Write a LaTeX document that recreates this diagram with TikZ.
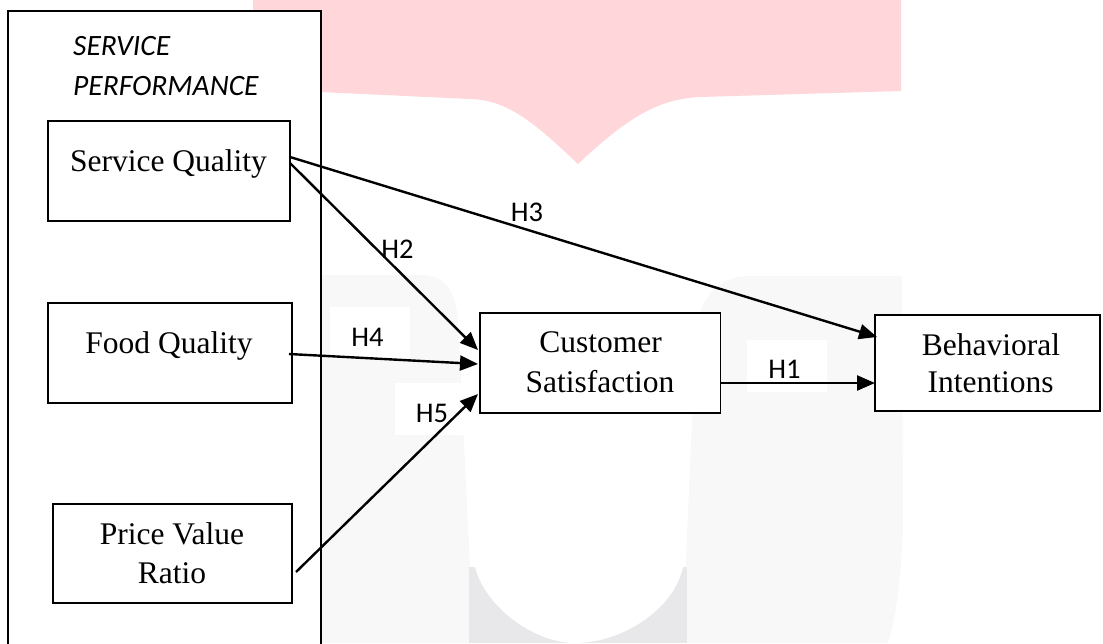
\documentclass[tikz,border=0pt]{standalone}
\usepackage{fontspec}
\setmainfont{Liberation Serif}
\newfontfamily\calibrifont{Carlito}
\usetikzlibrary{arrows.meta,calc}
\definecolor{wmpink}{HTML}{FFD6DA}
\definecolor{wmlight}{HTML}{F8F8F8}
\definecolor{wmdark}{HTML}{E8E8EA}
\begin{document}
\begin{tikzpicture}[x=1pt,y=-1pt,
  box/.style={draw, line width=1.3pt, inner sep=0pt, outer sep=0pt},
  txt/.style={inner sep=0pt, anchor=base, font=\fontsize{31.5}{36}\selectfont},
  lab/.style={inner sep=0pt, font=\calibrifont\fontsize{28.5}{32}\selectfont},
  labbox/.style={fill=white, inner sep=0pt, minimum width=80pt, minimum height=52pt},
  arr/.style={line width=2.4pt, -{Triangle[length=18pt,width=15pt]}}]
\useasboundingbox (0,0) rectangle (1103,643);
\clip (0,0) rectangle (1103,643);
% watermark
\fill[wmpink] (253,0) -- (901,0) -- (901,91) -- (700,97)
  .. controls (660,99) and (630,115) .. (578,164)
  .. controls (530,118) and (505,100) .. (470,99) -- (320,92) -- (253,92) -- cycle;
\fill[wmlight] (321,275) -- (420,275) .. controls (445,275) and (455,290) .. (458,320)
  -- (470,567) -- (470,643) -- (321,643) -- cycle;
\fill[wmlight] (750,276) -- (902,276) -- (903,520) .. controls (902,580) and (895,620) .. (888,643)
  -- (686,643) -- (686,560) -- (692,420) -- (697,330) .. controls (700,295) and (720,276) .. (750,276) -- cycle;
\fill[wmdark] (469,567) rectangle (687,643);
\fill[white] (473,540) -- (474,560) .. controls (478,600) and (530,643) .. (575,643)
  .. controls (625,643) and (680,605) .. (684,560) -- (686,540) -- cycle;
% outer group box
\node[draw, line width=2.5pt, fill=white, inner sep=0pt, outer sep=0pt,
  minimum width=313pt, minimum height=660pt, anchor=north west] (sp) at (8,11) {};
\node[anchor=base west, inner sep=0pt, font=\calibrifont\itshape\fontsize{29.5}{34}\selectfont] (spt1) at (73,55) {SERVICE};
\node[anchor=base west, inner sep=0pt, font=\calibrifont\itshape\fontsize{29.5}{34}\selectfont] (spt2) at (73,95) {PERFORMANCE};
% label backgrounds
\node[labbox] (h1box) at (787,366) {};
\node[labbox] (h4box) at (369.5,333) {};
\node[labbox] (h5box) at (435,409) {};
% boxes
\node[box, fill=white, minimum width=242pt, minimum height=100pt] (sq) at (169,171) {};
\node[box, fill=white, minimum width=244pt, minimum height=100pt] (fq) at (170,353) {};
\node[box, fill=white, minimum width=239pt, minimum height=99pt] (pv) at (172.5,553.5) {};
\node[box, fill=white, minimum width=240.5pt, minimum height=100pt] (cs) at (600.25,363) {};
\node[box, fill=white, minimum width=225pt, minimum height=96pt] (bi) at (987.5,363) {};
% box texts
\node[txt] (sqt) at (168.5,171) {Service Quality};
\node[txt] (fqt) at (169,353) {Food Quality};
\node[txt] (pvt1) at (172,544) {Price Value};
\node[txt] (pvt2) at (172,583) {Ratio};
\node[txt] (cst1) at (600.5,352) {Customer};
\node[txt] (cst2) at (600,392) {Satisfaction};
\node[txt] (bit1) at (991,355) {Behavioral};
\node[txt] (bit2) at (990.5,392) {Intentions};
% labels
\node[lab] (h1) at (784.5,369) {H1};
\node[lab] (h2) at (397.5,249) {H2};
\node[lab] (h3) at (527,212.5) {H3};
\node[lab] (h4) at (367.5,337.5) {H4};
\node[lab] (h5) at (432,413.5) {H5};
% connectors
\draw[arr] ([yshift=14pt]sq.east) -- ([yshift=26pt,xshift=2pt]bi.west);
\draw[arr] ([yshift=8pt]sq.east) -- ([yshift=13pt,xshift=-2pt]cs.west);
\draw[arr] ([yshift=-1pt,xshift=-3pt]fq.east) -- ([yshift=-1pt,xshift=-2pt]cs.west);
\draw[arr] ([yshift=-18.5pt,xshift=4pt]pv.east) -- ([yshift=-31pt,xshift=-2pt]cs.west);
\draw[arr] ([yshift=-20pt]cs.east) -- ([yshift=-20pt]bi.west);
\end{tikzpicture}
\end{document}
